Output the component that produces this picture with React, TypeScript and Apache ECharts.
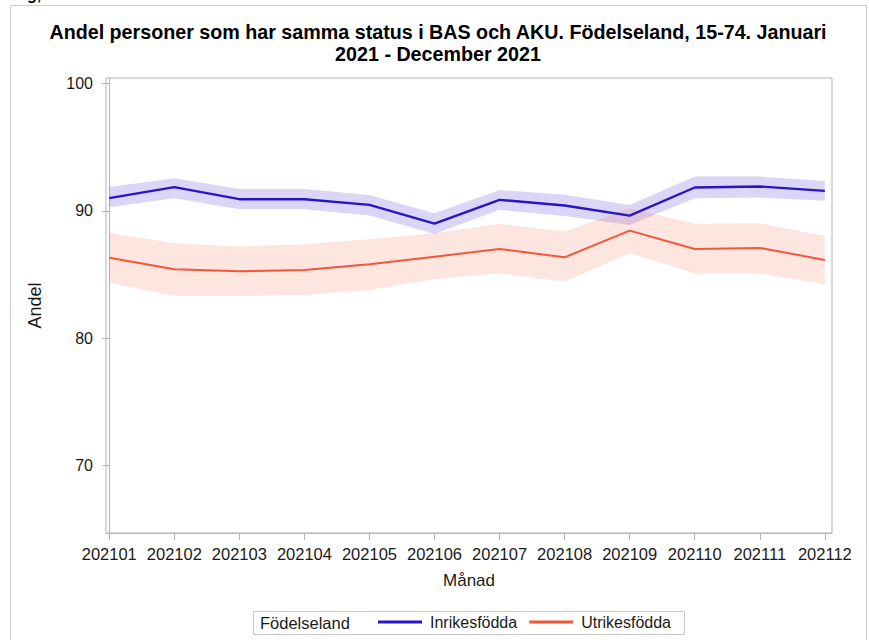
import React, { useEffect, useRef } from "react";
import * as echarts from "echarts";

const months = ["202101","202102","202103","202104","202105","202106","202107","202108","202109","202110","202111","202112"];
const inrikes = [91.0, 91.87, 90.92, 90.92, 90.47, 89.0, 90.87, 90.42, 89.63, 91.84, 91.92, 91.57];
const inrikesLow = [90.29, 91.0, 90.13, 90.13, 89.63, 88.19, 90.08, 89.6, 88.9, 91.0, 91.05, 90.79];
const inrikesHigh = [91.87, 92.57, 91.73, 91.73, 91.24, 89.82, 91.65, 91.26, 90.47, 92.7, 92.7, 92.36];
const utrikes = [86.32, 85.41, 85.25, 85.35, 85.8, 86.4, 87.0, 86.35, 88.45, 87.0, 87.09, 86.14];
const utrikesLow = [84.35, 83.31, 83.31, 83.39, 83.78, 84.62, 85.09, 84.43, 86.67, 85.09, 85.09, 84.23];
const utrikesHigh = [88.29, 87.46, 87.19, 87.38, 87.77, 88.24, 88.98, 88.37, 90.21, 88.98, 89.03, 88.03];
const yTicks = [70, 80, 90, 100];

const FONT = "'Liberation Sans', Arial, sans-serif";
const TXT = "#1a1a1a";
const AX = "#b4b4b4";

function bandSeries(name: string, low: number[], high: number[], fill: string) {
  return {
    type: "custom",
    name,
    silent: true,
    z: 1,
    data: months.map((_, i) => [i, low[i], high[i]]),
    encode: { x: 0, y: [1, 2] },
    renderItem: (params: any, api: any) => {
      if (params.dataIndex !== 0) return { type: "group", children: [] };
      const top = high.map((v, i) => api.coord([i, v]));
      const bot = low.map((v, i) => api.coord([i, v])).reverse();
      return {
        type: "polygon",
        shape: { points: top.concat(bot) },
        style: { fill },
      };
    },
  };
}

export default function App() {
  const ref = useRef<HTMLDivElement>(null);
  useEffect(() => {
    document.body.style.margin = "0";
    const chart = echarts.init(ref.current!, null, { renderer: "svg" });
    chart.setOption({
      animation: false,
      textStyle: { fontFamily: FONT },
      title: {
        text: "Andel personer som har samma status i BAS och AKU. Födelseland, 15-74. Januari\n2021 - December 2021",
        left: 438,
        textAlign: "center",
        top: 21,
        padding: 0,
        textStyle: { fontFamily: FONT, fontSize: 19.7, fontWeight: "bold", color: "#000", lineHeight: 22 },
      },
      graphic: [
        { type: "rect", shape: { x: 10.5, y: 5.5, width: 856, height: 700 }, style: { fill: "none", stroke: "#cfcfcf", lineWidth: 1 }, silent: true },
        { type: "text", x: 27, y: -14, style: { text: "g,", font: `bold 16px ${FONT}`, fill: "#000" }, silent: true },
        { type: "rect", shape: { x: 253.5, y: 611.5, width: 431, height: 23 }, style: { fill: "#fff", stroke: "#c8c8c8", lineWidth: 1 }, z: 0, silent: true },
        { type: "text", x: 260, y: 623, style: { text: "Födelseland", font: `16.5px ${FONT}`, fill: TXT, verticalAlign: "middle" }, z: 10, silent: true },
      ],
      legend: {
        data: ["Inrikesfödda", "Utrikesfödda"],
        left: 378,
        top: 614,
        padding: 0,
        icon: "rect",
        itemWidth: 44,
        itemHeight: 3,
        itemGap: 12,
        textStyle: { fontFamily: FONT, fontSize: 16, color: TXT, padding: [0, 0, 0, 3] },
      },
      grid: { left: 106, top: 78, width: 726, height: 455, show: true, borderColor: AX, borderWidth: 1, backgroundColor: "transparent" },
      xAxis: {
        type: "value",
        min: -0.05,
        max: 11.11,
        name: "Månad",
        nameLocation: "middle",
        nameGap: 39,
        nameTextStyle: { fontFamily: FONT, fontSize: 17, color: TXT },
        splitLine: { show: false },
        axisLine: { show: true, lineStyle: { color: AX } },
        axisTick: { show: true, length: 7, lineStyle: { color: AX }, customValues: months.map((_, i) => i) },
        axisLabel: {
          fontFamily: FONT, fontSize: 16.5, color: TXT, margin: 12,
          customValues: months.map((_, i) => i),
          formatter: (v: number) => months[Math.round(v)] ?? "",
        },
      },
      yAxis: {
        type: "value",
        min: 64.67,
        max: 100.45,
        name: "Andel",
        nameLocation: "middle",
        nameGap: 62,
        nameTextStyle: { fontFamily: FONT, fontSize: 18, color: TXT },
        splitLine: { show: false },
        axisLine: { show: true, lineStyle: { color: AX } },
        axisTick: { show: true, length: 7, lineStyle: { color: AX }, customValues: yTicks },
        axisLabel: { fontFamily: FONT, fontSize: 16, color: TXT, margin: 13, customValues: yTicks },
      },
      series: [
        bandSeries("Inrikes band", inrikesLow, inrikesHigh, "rgba(90,70,215,0.22)"),
        bandSeries("Utrikes band", utrikesLow, utrikesHigh, "rgba(245,110,85,0.18)"),
        {
          type: "line",
          name: "Inrikesfödda",
          data: months.map((_, i) => [i, inrikes[i]]),
          symbol: "none",
          z: 3,
          lineStyle: { color: "#2a14c8", width: 2.4 },
          itemStyle: { color: "#2a14c8" },
        },
        {
          type: "line",
          name: "Utrikesfödda",
          data: months.map((_, i) => [i, utrikes[i]]),
          symbol: "none",
          z: 3,
          lineStyle: { color: "#f4563a", width: 2 },
          itemStyle: { color: "#f4563a" },
        },
      ],
    });
    return () => chart.dispose();
  }, []);
  return <div ref={ref} style={{ width: 869, height: 640 }} />;
}
